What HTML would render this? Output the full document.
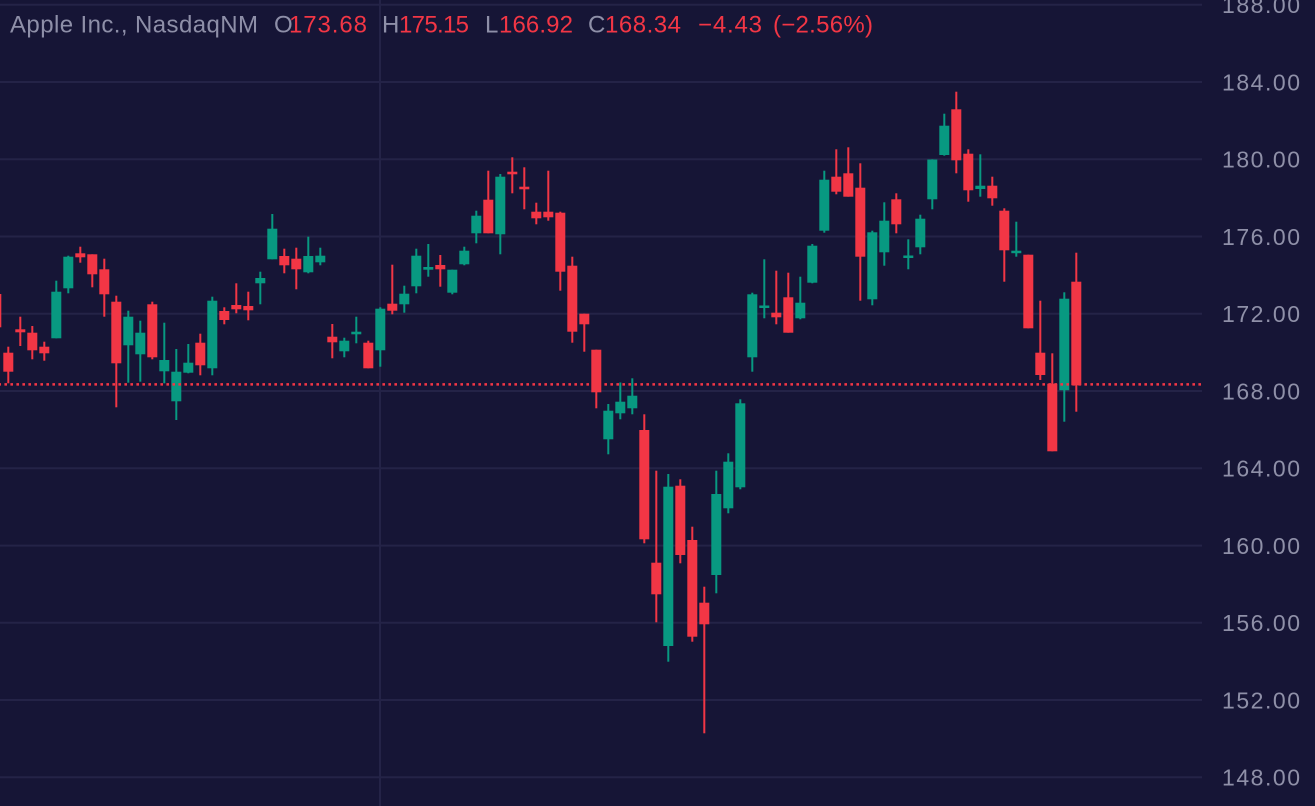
<!DOCTYPE html>
<html>
<head>
<meta charset="utf-8">
<style>
html,body{margin:0;padding:0;background:#161536;}
svg{display:block;}
.g{fill:#089981;}
.r{fill:#f23645;}
.gl{stroke:#242347;stroke-width:2;}
.ax{font-family:"Liberation Sans",sans-serif;font-size:23px;fill:#8f90a8;}
.hd{font-family:"Liberation Sans",sans-serif;font-size:24px;}
.gr{fill:#8e8fa8;}
.rd{fill:#f23645;}
</style>
</head>
<body>
<svg width="1315" height="806" viewBox="0 0 1315 806" xmlns="http://www.w3.org/2000/svg">
<rect x="0" y="0" width="1315" height="806" fill="#161536"/>
<!-- grid -->
<g class="gl">
<line x1="0" y1="4.7" x2="1202" y2="4.7"/>
<line x1="0" y1="82" x2="1202" y2="82"/>
<line x1="0" y1="159.2" x2="1202" y2="159.2"/>
<line x1="0" y1="236.5" x2="1202" y2="236.5"/>
<line x1="0" y1="313.7" x2="1202" y2="313.7"/>
<line x1="0" y1="391" x2="1202" y2="391"/>
<line x1="0" y1="468.3" x2="1202" y2="468.3"/>
<line x1="0" y1="545.6" x2="1202" y2="545.6"/>
<line x1="0" y1="622.8" x2="1202" y2="622.8"/>
<line x1="0" y1="700" x2="1202" y2="700"/>
<line x1="0" y1="777.3" x2="1202" y2="777.3"/>
<line x1="380" y1="0" x2="380" y2="806"/>
</g>
<!-- axis labels -->
<g class="ax">
<text x="1222" y="13" textLength="78" lengthAdjust="spacing">188.00</text>
<text x="1222" y="90.3" textLength="78" lengthAdjust="spacing">184.00</text>
<text x="1222" y="167.5" textLength="78" lengthAdjust="spacing">180.00</text>
<text x="1222" y="244.8" textLength="78" lengthAdjust="spacing">176.00</text>
<text x="1222" y="322" textLength="78" lengthAdjust="spacing">172.00</text>
<text x="1222" y="399.3" textLength="78" lengthAdjust="spacing">168.00</text>
<text x="1222" y="476.6" textLength="78" lengthAdjust="spacing">164.00</text>
<text x="1222" y="553.9" textLength="78" lengthAdjust="spacing">160.00</text>
<text x="1222" y="631.1" textLength="78" lengthAdjust="spacing">156.00</text>
<text x="1222" y="708.3" textLength="78" lengthAdjust="spacing">152.00</text>
<text x="1222" y="785.6" textLength="78" lengthAdjust="spacing">148.00</text>
</g>
<!-- candles -->
<g class="r" transform="translate(-3.7)"><rect x="-1" y="292" width="2" height="38"/><rect x="-5" y="294" width="10" height="33.3"/></g>
<g class="r" transform="translate(8.3)"><rect x="-1" y="346.7" width="2" height="36.6"/><rect x="-5" y="352.7" width="10" height="19"/></g>
<g class="r" transform="translate(20.3)"><rect x="-1" y="316.7" width="2" height="29.3"/><rect x="-5" y="329.3" width="10" height="3"/></g>
<g class="r" transform="translate(32.3)"><rect x="-1" y="326" width="2" height="33.3"/><rect x="-5" y="332.7" width="10" height="17.6"/></g>
<g class="r" transform="translate(44.3)"><rect x="-1" y="341.7" width="2" height="19"/><rect x="-5" y="346.7" width="10" height="6.6"/></g>
<g class="g" transform="translate(56.3)"><rect x="-1" y="280.7" width="2" height="57.6"/><rect x="-5" y="291.7" width="10" height="46.6"/></g>
<g class="g" transform="translate(68.3)"><rect x="-1" y="255.7" width="2" height="37.6"/><rect x="-5" y="256.7" width="10" height="31.6"/></g>
<g class="r" transform="translate(80.3)"><rect x="-1" y="246.7" width="2" height="16"/><rect x="-5" y="253.3" width="10" height="4"/></g>
<g class="r" transform="translate(92.3)"><rect x="-1" y="254.3" width="2" height="33"/><rect x="-5" y="254.3" width="10" height="20"/></g>
<g class="r" transform="translate(104.3)"><rect x="-1" y="258.7" width="2" height="58"/><rect x="-5" y="269.3" width="10" height="25"/></g>
<g class="r" transform="translate(116.3)"><rect x="-1" y="295.7" width="2" height="111.6"/><rect x="-5" y="301.7" width="10" height="61.6"/></g>
<g class="g" transform="translate(128.3)"><rect x="-1" y="310.7" width="2" height="72"/><rect x="-5" y="316.7" width="10" height="28.6"/></g>
<g class="g" transform="translate(140.3)"><rect x="-1" y="320.7" width="2" height="61"/><rect x="-5" y="332.7" width="10" height="21.6"/></g>
<g class="r" transform="translate(152.3)"><rect x="-1" y="301.7" width="2" height="57.6"/><rect x="-5" y="304.3" width="10" height="53"/></g>
<g class="g" transform="translate(164.3)"><rect x="-1" y="322.7" width="2" height="60.6"/><rect x="-5" y="360" width="10" height="11.3"/></g>
<g class="g" transform="translate(176.3)"><rect x="-1" y="349" width="2" height="71"/><rect x="-5" y="371.7" width="10" height="29.6"/></g>
<g class="g" transform="translate(188.3)"><rect x="-1" y="344" width="2" height="29.3"/><rect x="-5" y="362.7" width="10" height="10"/></g>
<g class="r" transform="translate(200.3)"><rect x="-1" y="333.7" width="2" height="41.6"/><rect x="-5" y="342.7" width="10" height="22.6"/></g>
<g class="g" transform="translate(212.3)"><rect x="-1" y="296.7" width="2" height="78.6"/><rect x="-5" y="300.7" width="10" height="67.6"/></g>
<g class="r" transform="translate(224.3)"><rect x="-1" y="307.3" width="2" height="17"/><rect x="-5" y="311" width="10" height="9"/></g>
<g class="r" transform="translate(236.3)"><rect x="-1" y="283.3" width="2" height="30"/><rect x="-5" y="305" width="10" height="4.3"/></g>
<g class="r" transform="translate(248.3)"><rect x="-1" y="291.7" width="2" height="28.6"/><rect x="-5" y="306" width="10" height="4.3"/></g>
<g class="g" transform="translate(260.3)"><rect x="-1" y="271.7" width="2" height="32.6"/><rect x="-5" y="278" width="10" height="5.3"/></g>
<g class="g" transform="translate(272.3)"><rect x="-1" y="214" width="2" height="45.3"/><rect x="-5" y="228.7" width="10" height="30.6"/></g>
<g class="r" transform="translate(284.3)"><rect x="-1" y="248.7" width="2" height="24.6"/><rect x="-5" y="256" width="10" height="9.3"/></g>
<g class="r" transform="translate(296.3)"><rect x="-1" y="247.7" width="2" height="41.6"/><rect x="-5" y="258.7" width="10" height="10.6"/></g>
<g class="g" transform="translate(308.3)"><rect x="-1" y="236.7" width="2" height="36.6"/><rect x="-5" y="256" width="10" height="16.3"/></g>
<g class="g" transform="translate(320.3)"><rect x="-1" y="247.7" width="2" height="17.6"/><rect x="-5" y="255.7" width="10" height="6.6"/></g>
<g class="r" transform="translate(332.3)"><rect x="-1" y="324" width="2" height="34.3"/><rect x="-5" y="336.7" width="10" height="5.6"/></g>
<g class="g" transform="translate(344.3)"><rect x="-1" y="337.7" width="2" height="19.6"/><rect x="-5" y="340.7" width="10" height="10.6"/></g>
<g class="g" transform="translate(356.3)"><rect x="-1" y="316.7" width="2" height="26.6"/><rect x="-5" y="331.7" width="10" height="2.6"/></g>
<g class="r" transform="translate(368.3)"><rect x="-1" y="340.7" width="2" height="27.6"/><rect x="-5" y="342.7" width="10" height="25.6"/></g>
<g class="g" transform="translate(380.3)"><rect x="-1" y="307.3" width="2" height="59.4"/><rect x="-5" y="308.7" width="10" height="41.6"/></g>
<g class="r" transform="translate(392.3)"><rect x="-1" y="264.7" width="2" height="49.6"/><rect x="-5" y="303.7" width="10" height="7"/></g>
<g class="g" transform="translate(404.3)"><rect x="-1" y="285.7" width="2" height="27"/><rect x="-5" y="293.7" width="10" height="10.6"/></g>
<g class="g" transform="translate(416.3)"><rect x="-1" y="248.7" width="2" height="44.6"/><rect x="-5" y="255.7" width="10" height="30.6"/></g>
<g class="g" transform="translate(428.3)"><rect x="-1" y="244" width="2" height="32.7"/><rect x="-5" y="267" width="10" height="2.7"/></g>
<g class="r" transform="translate(440.3)"><rect x="-1" y="255" width="2" height="31.7"/><rect x="-5" y="265" width="10" height="4.3"/></g>
<g class="g" transform="translate(452.3)"><rect x="-1" y="269.7" width="2" height="24.6"/><rect x="-5" y="269.7" width="10" height="23"/></g>
<g class="g" transform="translate(464.3)"><rect x="-1" y="246.7" width="2" height="18.6"/><rect x="-5" y="250.7" width="10" height="13.6"/></g>
<g class="g" transform="translate(476.3)"><rect x="-1" y="210.7" width="2" height="32.6"/><rect x="-5" y="215.7" width="10" height="17.6"/></g>
<g class="r" transform="translate(488.3)"><rect x="-1" y="170.7" width="2" height="62.6"/><rect x="-5" y="199.7" width="10" height="33.6"/></g>
<g class="g" transform="translate(500.3)"><rect x="-1" y="174" width="2" height="80.3"/><rect x="-5" y="176.7" width="10" height="57.6"/></g>
<g class="r" transform="translate(512.3)"><rect x="-1" y="157.3" width="2" height="36"/><rect x="-5" y="171.7" width="10" height="2.6"/></g>
<g class="r" transform="translate(524.3)"><rect x="-1" y="167.3" width="2" height="42"/><rect x="-5" y="186.7" width="10" height="2.6"/></g>
<g class="r" transform="translate(536.3)"><rect x="-1" y="202.7" width="2" height="21.6"/><rect x="-5" y="211.7" width="10" height="6.6"/></g>
<g class="r" transform="translate(548.3)"><rect x="-1" y="170.7" width="2" height="50"/><rect x="-5" y="211.7" width="10" height="5.6"/></g>
<g class="r" transform="translate(560.3)"><rect x="-1" y="211.7" width="2" height="79"/><rect x="-5" y="212.7" width="10" height="59"/></g>
<g class="r" transform="translate(572.3)"><rect x="-1" y="256.7" width="2" height="86"/><rect x="-5" y="265.7" width="10" height="66"/></g>
<g class="r" transform="translate(584.3)"><rect x="-1" y="313.7" width="2" height="38"/><rect x="-5" y="313.7" width="10" height="10.6"/></g>
<g class="r" transform="translate(596.3)"><rect x="-1" y="349.7" width="2" height="58.6"/><rect x="-5" y="349.7" width="10" height="42.6"/></g>
<g class="g" transform="translate(608.3)"><rect x="-1" y="404" width="2" height="50.3"/><rect x="-5" y="410.7" width="10" height="28.6"/></g>
<g class="g" transform="translate(620.3)"><rect x="-1" y="382.5" width="2" height="36.8"/><rect x="-5" y="401.7" width="10" height="11.6"/></g>
<g class="g" transform="translate(632.3)"><rect x="-1" y="378.3" width="2" height="36"/><rect x="-5" y="395.7" width="10" height="12.6"/></g>
<g class="r" transform="translate(644.3)"><rect x="-1" y="414.3" width="2" height="129"/><rect x="-5" y="430" width="10" height="109.3"/></g>
<g class="r" transform="translate(656.3)"><rect x="-1" y="470.7" width="2" height="151.6"/><rect x="-5" y="562.7" width="10" height="31.6"/></g>
<g class="g" transform="translate(668.3)"><rect x="-1" y="474" width="2" height="187.7"/><rect x="-5" y="486.7" width="10" height="159.3"/></g>
<g class="r" transform="translate(680.3)"><rect x="-1" y="479.3" width="2" height="84"/><rect x="-5" y="485.7" width="10" height="69.3"/></g>
<g class="r" transform="translate(692.3)"><rect x="-1" y="526.7" width="2" height="115"/><rect x="-5" y="540" width="10" height="96.7"/></g>
<g class="r" transform="translate(704.3)"><rect x="-1" y="586.7" width="2" height="146.6"/><rect x="-5" y="602.7" width="10" height="21.6"/></g>
<g class="g" transform="translate(716.3)"><rect x="-1" y="470.7" width="2" height="122.6"/><rect x="-5" y="494" width="10" height="81"/></g>
<g class="g" transform="translate(728.3)"><rect x="-1" y="453.3" width="2" height="60"/><rect x="-5" y="461.7" width="10" height="46.6"/></g>
<g class="g" transform="translate(740.3)"><rect x="-1" y="399.3" width="2" height="90"/><rect x="-5" y="403.3" width="10" height="84"/></g>
<g class="g" transform="translate(752.3)"><rect x="-1" y="292.7" width="2" height="79"/><rect x="-5" y="294.3" width="10" height="63"/></g>
<g class="g" transform="translate(764.3)"><rect x="-1" y="259.3" width="2" height="59"/><rect x="-5" y="305.5" width="10" height="2.5"/></g>
<g class="r" transform="translate(776.3)"><rect x="-1" y="270.7" width="2" height="53.6"/><rect x="-5" y="312.7" width="10" height="4.6"/></g>
<g class="r" transform="translate(788.3)"><rect x="-1" y="272.7" width="2" height="60"/><rect x="-5" y="297.3" width="10" height="35.4"/></g>
<g class="g" transform="translate(800.3)"><rect x="-1" y="276.7" width="2" height="42.6"/><rect x="-5" y="302.7" width="10" height="15.6"/></g>
<g class="g" transform="translate(812.3)"><rect x="-1" y="244" width="2" height="39.3"/><rect x="-5" y="245.7" width="10" height="37"/></g>
<g class="g" transform="translate(824.3)"><rect x="-1" y="170.7" width="2" height="62"/><rect x="-5" y="179.7" width="10" height="51"/></g>
<g class="r" transform="translate(836.3)"><rect x="-1" y="149.3" width="2" height="45"/><rect x="-5" y="176.7" width="10" height="15"/></g>
<g class="r" transform="translate(848.3)"><rect x="-1" y="147.3" width="2" height="49.4"/><rect x="-5" y="173.3" width="10" height="23.4"/></g>
<g class="r" transform="translate(860.3)"><rect x="-1" y="163.3" width="2" height="137.4"/><rect x="-5" y="187.7" width="10" height="69"/></g>
<g class="g" transform="translate(872.3)"><rect x="-1" y="230.7" width="2" height="74.6"/><rect x="-5" y="232.3" width="10" height="67"/></g>
<g class="g" transform="translate(884.3)"><rect x="-1" y="202.3" width="2" height="63.4"/><rect x="-5" y="220.7" width="10" height="31.6"/></g>
<g class="r" transform="translate(896.3)"><rect x="-1" y="193.3" width="2" height="40"/><rect x="-5" y="199.3" width="10" height="25"/></g>
<g class="g" transform="translate(908.3)"><rect x="-1" y="239.3" width="2" height="30"/><rect x="-5" y="255.5" width="10" height="2.5"/></g>
<g class="g" transform="translate(920.3)"><rect x="-1" y="214.7" width="2" height="39.6"/><rect x="-5" y="218.7" width="10" height="28.6"/></g>
<g class="g" transform="translate(932.3)"><rect x="-1" y="159.3" width="2" height="50"/><rect x="-5" y="159.5" width="10" height="39.8"/></g>
<g class="g" transform="translate(944.3)"><rect x="-1" y="113.7" width="2" height="42"/><rect x="-5" y="125.7" width="10" height="29.3"/></g>
<g class="r" transform="translate(956.3)"><rect x="-1" y="91.7" width="2" height="81.6"/><rect x="-5" y="109.3" width="10" height="51"/></g>
<g class="r" transform="translate(968.3)"><rect x="-1" y="149.3" width="2" height="52.4"/><rect x="-5" y="153.7" width="10" height="36.6"/></g>
<g class="g" transform="translate(980.3)"><rect x="-1" y="154.3" width="2" height="42.4"/><rect x="-5" y="185.7" width="10" height="3.3"/></g>
<g class="r" transform="translate(992.3)"><rect x="-1" y="176.7" width="2" height="29"/><rect x="-5" y="185.7" width="10" height="12.6"/></g>
<g class="r" transform="translate(1004.3)"><rect x="-1" y="208.3" width="2" height="73.4"/><rect x="-5" y="210.7" width="10" height="39.6"/></g>
<g class="g" transform="translate(1016.3)"><rect x="-1" y="221.7" width="2" height="35"/><rect x="-5" y="250.7" width="10" height="2.5"/></g>
<g class="r" transform="translate(1028.3)"><rect x="-1" y="254.7" width="2" height="73.6"/><rect x="-5" y="254.7" width="10" height="73.6"/></g>
<g class="r" transform="translate(1040.3)"><rect x="-1" y="300.7" width="2" height="79.3"/><rect x="-5" y="352.7" width="10" height="22.3"/></g>
<g class="r" transform="translate(1052.3)"><rect x="-1" y="353.3" width="2" height="98"/><rect x="-5" y="383.7" width="10" height="67.6"/></g>
<g class="g" transform="translate(1064.3)"><rect x="-1" y="292.3" width="2" height="129.4"/><rect x="-5" y="298.7" width="10" height="91.6"/></g>
<g class="r" transform="translate(1076.3)"><rect x="-1" y="252.7" width="2" height="159"/><rect x="-5" y="281.7" width="10" height="103.6"/></g>
<!-- price line -->
<line x1="0" y1="384.4" x2="1202" y2="384.4" stroke="#f23645" stroke-width="2.5" stroke-dasharray="2.6 3.4" stroke-dashoffset="1.6"/>
<!-- header -->
<g class="hd">
<text x="10" y="32.7" class="gr" textLength="248" lengthAdjust="spacing">Apple Inc., NasdaqNM</text>
<text x="274" y="32.7" class="gr">O</text>
<text x="289" y="32.7" class="rd" textLength="78" lengthAdjust="spacing">173.68</text>
<text x="382" y="32.7" class="gr">H</text>
<text x="399" y="32.7" class="rd" textLength="70" lengthAdjust="spacing">175.15</text>
<text x="485" y="32.7" class="gr">L</text>
<text x="499" y="32.7" class="rd" textLength="74" lengthAdjust="spacing">166.92</text>
<text x="588" y="32.7" class="gr">C</text>
<text x="605" y="32.7" class="rd" textLength="76" lengthAdjust="spacing">168.34</text>
<text x="698" y="32.7" class="rd" textLength="64" lengthAdjust="spacing">−4.43</text>
<text x="773" y="32.7" class="rd" textLength="100" lengthAdjust="spacing">(−2.56%)</text>
</g>
</svg>
</body>
</html>
